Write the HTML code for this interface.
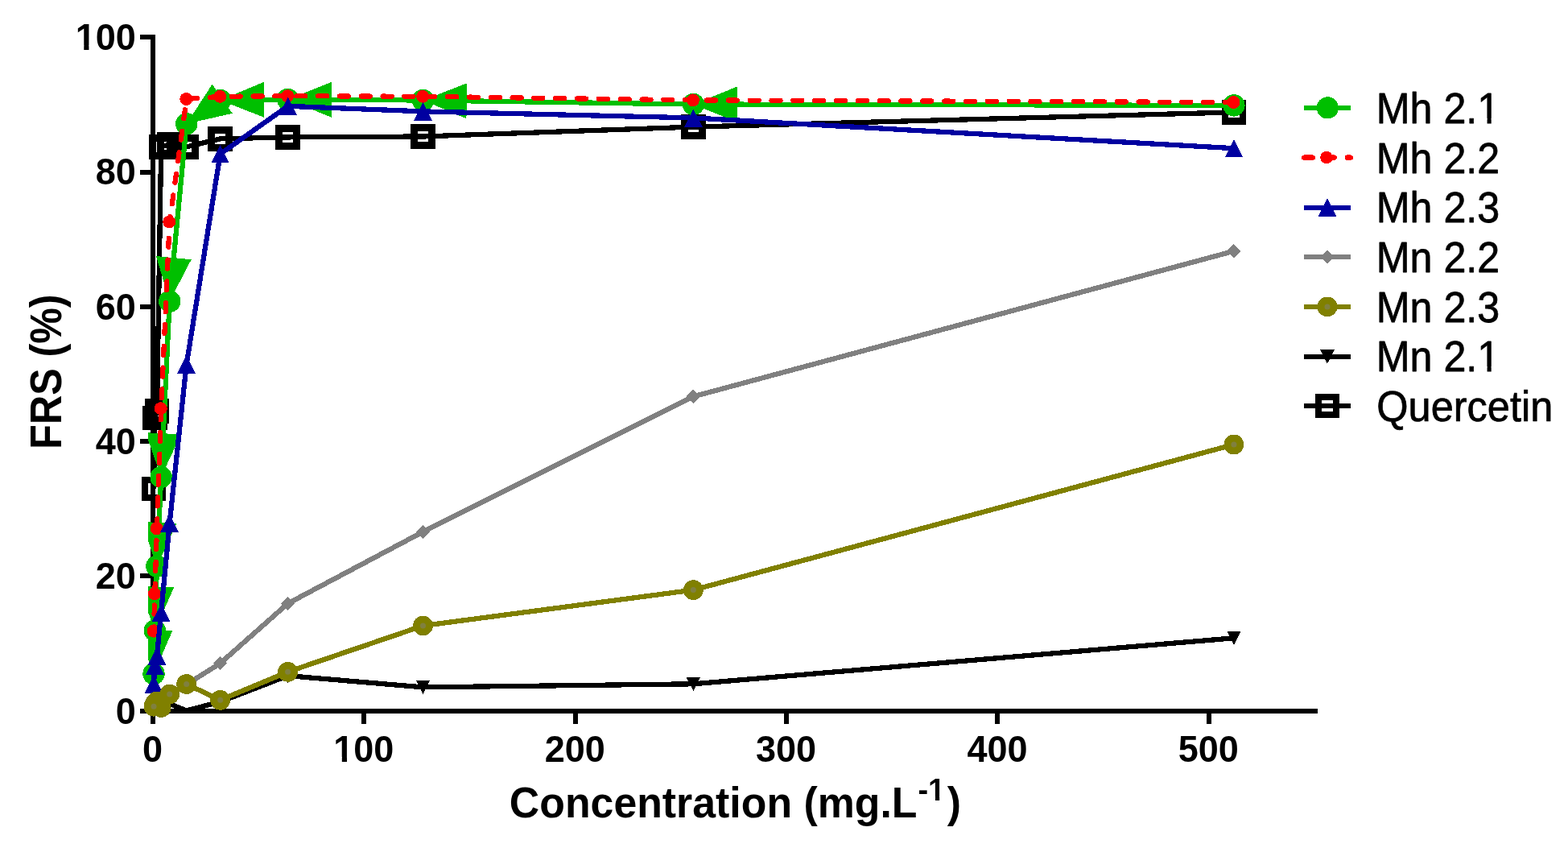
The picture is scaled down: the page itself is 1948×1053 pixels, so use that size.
<!DOCTYPE html>
<html lang="en"><head><meta charset="utf-8"><title>FRS (%) vs Concentration</title>
<style>html,body{margin:0;padding:0;background:#fff;width:1948px;height:1053px;overflow:hidden}svg{display:block}text{font-family:"Liberation Sans",sans-serif;fill:#000}.b{font-weight:700}.r{stroke:#000;stroke-width:0.7px;stroke-linejoin:round}</style></head><body>
<svg width="1948" height="1053" viewBox="0 0 1948 1053">
<rect width="1948" height="1053" fill="#fff"/>
<defs><clipPath id="cp"><rect x="184" y="0" width="1500" height="886"/></clipPath></defs>
<g shape-rendering="crispEdges" fill="#000">
<rect x="187" y="43" width="6" height="843"/>
<rect x="187" y="880" width="1450" height="6"/>
<rect x="174" y="880" width="14" height="6"/>
<rect x="174" y="712" width="14" height="6"/>
<rect x="174" y="545" width="14" height="6"/>
<rect x="174" y="378" width="14" height="6"/>
<rect x="174" y="211" width="14" height="6"/>
<rect x="174" y="43" width="14" height="6"/>
<rect x="187" y="885" width="6" height="14"/>
<rect x="449" y="885" width="6" height="14"/>
<rect x="712" y="885" width="6" height="14"/>
<rect x="974" y="885" width="6" height="14"/>
<rect x="1236" y="885" width="6" height="14"/>
<rect x="1499" y="885" width="6" height="14"/>
</g>
<g transform="translate(143.82 898.7) scale(1 1.0401)"><text class="b" font-size="45">0</text></g>
<g transform="translate(118.79 731.38) scale(1 1.0401)"><text class="b" font-size="45">20</text></g>
<g transform="translate(118.79 564.06) scale(1 1.0401)"><text class="b" font-size="45">40</text></g>
<g transform="translate(118.79 396.74) scale(1 1.0401)"><text class="b" font-size="45">60</text></g>
<g transform="translate(118.79 229.42) scale(1 1.0401)"><text class="b" font-size="45">80</text></g>
<g transform="translate(93.77 62.1) scale(1 1.0401)"><text class="b" font-size="45">100</text><rect x="1.83" y="-5.49" width="8.67" height="6.59" fill="#fff"/><rect x="16.68" y="-5.49" width="8.1" height="6.59" fill="#fff"/></g>
<g transform="translate(176.99 945.6) scale(1 1.0401)"><text class="b" font-size="45">0</text></g>
<g transform="translate(414.32 945.6) scale(1 1.0401)"><text class="b" font-size="45">100</text><rect x="1.83" y="-5.49" width="8.67" height="6.59" fill="#fff"/><rect x="16.68" y="-5.49" width="8.1" height="6.59" fill="#fff"/></g>
<g transform="translate(676.68 945.6) scale(1 1.0401)"><text class="b" font-size="45">200</text></g>
<g transform="translate(939.04 945.6) scale(1 1.0401)"><text class="b" font-size="45">300</text></g>
<g transform="translate(1201.4 945.6) scale(1 1.0401)"><text class="b" font-size="45">400</text></g>
<g transform="translate(1463.76 945.6) scale(1 1.0401)"><text class="b" font-size="45">500</text></g>
<g transform="translate(632.87 1015) scale(1 1.0348)"><text class="b" font-size="51.83">Concentration (mg.L</text></g>
<g transform="translate(1140.42 994) scale(1 1.0347)"><text class="b" font-size="38">-1</text><rect x="14.05" y="-4.78" width="7.48" height="5.88" fill="#fff"/><rect x="26.74" y="-4.78" width="6.99" height="5.88" fill="#fff"/></g>
<g transform="translate(1176.85 1015) scale(1 1.0348)"><text class="b" font-size="51.83">)</text></g>
<text class="b" font-size="50.13" transform="translate(76.2 557.65) rotate(-90) scale(1 1.0989)">FRS (%)</text>
<g shape-rendering="crispEdges">
<g clip-path="url(#cp)"><polyline points="191.01,607 192.32,519 194.95,510.6 200.19,182.4 210.69,179.4 231.68,182.4 273.65,172.3 357.6,170.4 525.51,169.5 861.32,157.6 1532.93,139.4" fill="none" stroke="#000" stroke-width="6.25" stroke-linejoin="round" /></g>
<rect x="1521.91" y="128.38" width="22.05" height="22.05" fill="none" stroke="#000" stroke-width="8.75"/>
<rect x="850.29" y="146.57" width="22.05" height="22.05" fill="none" stroke="#000" stroke-width="8.75"/>
<rect x="514.48" y="158.47" width="22.05" height="22.05" fill="none" stroke="#000" stroke-width="8.75"/>
<rect x="346.58" y="159.38" width="22.05" height="22.05" fill="none" stroke="#000" stroke-width="8.75"/>
<rect x="262.63" y="161.28" width="22.05" height="22.05" fill="none" stroke="#000" stroke-width="8.75"/>
<rect x="220.65" y="171.38" width="22.05" height="22.05" fill="none" stroke="#000" stroke-width="8.75"/>
<rect x="199.66" y="168.38" width="22.05" height="22.05" fill="none" stroke="#000" stroke-width="8.75"/>
<rect x="189.17" y="171.38" width="22.05" height="22.05" fill="none" stroke="#000" stroke-width="8.75"/>
<rect x="183.92" y="499.58" width="22.05" height="22.05" fill="none" stroke="#000" stroke-width="8.75"/>
<rect x="181.3" y="507.98" width="22.05" height="22.05" fill="none" stroke="#000" stroke-width="8.75"/>
<rect x="179.99" y="595.98" width="22.05" height="22.05" fill="none" stroke="#000" stroke-width="8.75"/>
<g clip-path="url(#cp)"><polyline points="191.01,879 192.32,878 194.95,877 200.19,876 210.69,874 231.68,882.4 273.65,871.5 357.6,839.1 525.51,853.4 861.32,849.3 1532.93,792.3" fill="none" stroke="#000" stroke-width="6.25" stroke-linejoin="round" /></g>
<polygon points="191.01,887.6 199.81,870.4 182.21,870.4" fill="#000"/>
<polygon points="192.32,886.6 201.12,869.4 183.52,869.4" fill="#000"/>
<polygon points="194.95,885.6 203.75,868.4 186.15,868.4" fill="#000"/>
<polygon points="200.19,884.6 208.99,867.4 191.39,867.4" fill="#000"/>
<polygon points="210.69,882.6 219.49,865.4 201.89,865.4" fill="#000"/>
<polygon points="273.65,880.1 282.45,862.9 264.85,862.9" fill="#000"/>
<polygon points="357.6,847.7 366.4,830.5 348.8,830.5" fill="#000"/>
<polygon points="525.51,862 534.31,844.8 516.71,844.8" fill="#000"/>
<polygon points="861.32,857.9 870.12,840.7 852.52,840.7" fill="#000"/>
<polygon points="1532.93,800.9 1541.73,783.7 1524.13,783.7" fill="#000"/>
<g clip-path="url(#cp)"><polyline points="191.01,836.8 192.32,783 194.95,703.2 200.19,592.5 210.69,374.2 231.68,153.8 273.65,124.5 357.6,123.5 525.51,124.5 861.32,129.5 1532.93,130.9" fill="none" stroke="#00BF00" stroke-width="6.25" stroke-linejoin="round" />
<polygon points="191.01,836.8 214.33,783.05 170.34,781.98" fill="#00BF00"/>
<polygon points="192.32,783 216.1,729.45 172.12,728.01" fill="#00BF00"/>
<polygon points="194.95,703.2 219.49,650 175.54,647.92" fill="#00BF00"/>
<polygon points="200.19,592.5 224.78,539.32 180.83,537.21" fill="#00BF00"/>
<polygon points="210.69,374.2 237.74,322.23 193.93,318.06" fill="#00BF00"/>
<polygon points="231.68,153.8 288.79,140.76 263.61,104.68" fill="#00BF00"/>
<polygon points="273.65,124.5 328.21,145.85 327.69,101.85" fill="#00BF00"/>
<polygon points="357.6,123.5 411.77,145.82 412.03,101.82" fill="#00BF00"/>
<polygon points="525.51,124.5 579.47,147.31 580.13,103.31" fill="#00BF00"/>
<polygon points="861.32,129.5 915.57,151.61 915.66,107.61" fill="#00BF00"/>
</g>
<circle cx="191.01" cy="836.8" r="13.7" fill="#00BF00"/>
<circle cx="192.32" cy="783" r="13.7" fill="#00BF00"/>
<circle cx="194.95" cy="703.2" r="13.7" fill="#00BF00"/>
<circle cx="200.19" cy="592.5" r="13.7" fill="#00BF00"/>
<circle cx="210.69" cy="374.2" r="13.7" fill="#00BF00"/>
<circle cx="231.68" cy="153.8" r="13.7" fill="#00BF00"/>
<circle cx="273.65" cy="124.5" r="13.7" fill="#00BF00"/>
<circle cx="357.6" cy="123.5" r="13.7" fill="#00BF00"/>
<circle cx="525.51" cy="124.5" r="13.7" fill="#00BF00"/>
<circle cx="861.32" cy="129.5" r="13.7" fill="#00BF00"/>
<circle cx="1532.93" cy="130.9" r="13.7" fill="#00BF00"/>
<g clip-path="url(#cp)"><polyline points="1532.93,127 861.32,124.4 525.51,119.8 357.6,119.2 273.65,119.8 231.68,123 210.69,275.5 200.19,507.2 194.95,656.2 192.32,737.3 191.01,783.7" fill="none" stroke="#FF0000" stroke-width="6.25" stroke-linejoin="round" stroke-dasharray="11 15.83" stroke-linecap="round" stroke-dashoffset="0"/></g>
<circle cx="190.61" cy="783.7" r="8" fill="#FF0000"/>
<circle cx="191.92" cy="737.3" r="8" fill="#FF0000"/>
<circle cx="194.55" cy="656.2" r="8" fill="#FF0000"/>
<circle cx="199.79" cy="507.2" r="8" fill="#FF0000"/>
<circle cx="210.29" cy="275.5" r="8" fill="#FF0000"/>
<circle cx="231.28" cy="123" r="8" fill="#FF0000"/>
<circle cx="273.25" cy="119.8" r="8" fill="#FF0000"/>
<circle cx="357.2" cy="119.2" r="8" fill="#FF0000"/>
<circle cx="525.11" cy="119.8" r="8" fill="#FF0000"/>
<circle cx="860.92" cy="124.4" r="8" fill="#FF0000"/>
<circle cx="1532.53" cy="127" r="8" fill="#FF0000"/>
<g clip-path="url(#cp)"><polyline points="191.01,849.3 192.32,826.3 194.95,814.6 200.19,760.5 210.69,649.4 231.68,452.4 273.65,191.2 357.6,131.8 525.51,138.4 861.32,146.4 1532.93,184.2" fill="none" stroke="#0000A0" stroke-width="6.25" stroke-linejoin="round" /></g>
<polygon points="191.01,838.1 202.31,860.5 179.71,860.5" fill="#0000A0"/>
<polygon points="192.32,815.1 203.62,837.5 181.02,837.5" fill="#0000A0"/>
<polygon points="194.95,803.4 206.25,825.8 183.65,825.8" fill="#0000A0"/>
<polygon points="200.19,749.3 211.49,771.7 188.89,771.7" fill="#0000A0"/>
<polygon points="210.69,638.2 221.99,660.6 199.39,660.6" fill="#0000A0"/>
<polygon points="231.68,441.2 242.98,463.6 220.38,463.6" fill="#0000A0"/>
<polygon points="273.65,180 284.95,202.4 262.35,202.4" fill="#0000A0"/>
<polygon points="357.6,120.6 368.9,143 346.3,143" fill="#0000A0"/>
<polygon points="525.51,127.2 536.81,149.6 514.21,149.6" fill="#0000A0"/>
<polygon points="861.32,135.2 872.62,157.6 850.02,157.6" fill="#0000A0"/>
<polygon points="1532.93,173 1544.23,195.4 1521.63,195.4" fill="#0000A0"/>
<g clip-path="url(#cp)"><polyline points="191.01,880 192.32,879 194.95,877 200.19,872 210.69,864 231.68,850 273.65,823.6 357.6,749.4 525.51,660.4 861.32,492.4 1532.93,311.8" fill="none" stroke="#808080" stroke-width="6.25" stroke-linejoin="round" /></g>
<polygon points="191.01,871.25 199.76,880 191.01,888.75 182.26,880" fill="#808080"/>
<polygon points="192.32,870.25 201.07,879 192.32,887.75 183.57,879" fill="#808080"/>
<polygon points="194.95,868.25 203.7,877 194.95,885.75 186.2,877" fill="#808080"/>
<polygon points="200.19,863.25 208.94,872 200.19,880.75 191.44,872" fill="#808080"/>
<polygon points="210.69,855.25 219.44,864 210.69,872.75 201.94,864" fill="#808080"/>
<polygon points="231.68,841.25 240.43,850 231.68,858.75 222.93,850" fill="#808080"/>
<polygon points="273.65,814.85 282.4,823.6 273.65,832.35 264.9,823.6" fill="#808080"/>
<polygon points="357.6,740.65 366.35,749.4 357.6,758.15 348.85,749.4" fill="#808080"/>
<polygon points="525.51,651.65 534.26,660.4 525.51,669.15 516.76,660.4" fill="#808080"/>
<polygon points="861.32,483.65 870.07,492.4 861.32,501.15 852.57,492.4" fill="#808080"/>
<polygon points="1532.93,303.05 1541.68,311.8 1532.93,320.55 1524.18,311.8" fill="#808080"/>
<g clip-path="url(#cp)"><polyline points="191.01,877.2 192.32,874 194.95,870.9 200.19,878.5 210.69,862 231.68,849.5 273.65,869.3 357.6,834.3 525.51,777 861.32,732.6 1532.93,552" fill="none" stroke="#808000" stroke-width="6.25" stroke-linejoin="round" /></g>
<circle cx="1532.93" cy="552" r="12.4" fill="#808000"/>
<circle shape-rendering="geometricPrecision" cx="1532.93" cy="552" r="3.5" fill="#808040"/>
<circle cx="861.32" cy="732.6" r="12.4" fill="#808000"/>
<circle shape-rendering="geometricPrecision" cx="861.32" cy="732.6" r="3.5" fill="#808040"/>
<circle cx="525.51" cy="777" r="12.4" fill="#808000"/>
<circle shape-rendering="geometricPrecision" cx="525.51" cy="777" r="3.5" fill="#808040"/>
<circle cx="357.6" cy="834.3" r="12.4" fill="#808000"/>
<circle shape-rendering="geometricPrecision" cx="357.6" cy="834.3" r="3.5" fill="#808040"/>
<circle cx="273.65" cy="869.3" r="12.4" fill="#808000"/>
<circle shape-rendering="geometricPrecision" cx="273.65" cy="869.3" r="3.5" fill="#808040"/>
<circle cx="231.68" cy="849.5" r="12.4" fill="#808000"/>
<circle shape-rendering="geometricPrecision" cx="231.68" cy="849.5" r="3.5" fill="#808040"/>
<circle cx="210.69" cy="862" r="12.4" fill="#808000"/>
<circle shape-rendering="geometricPrecision" cx="210.69" cy="862" r="3.5" fill="#808040"/>
<circle cx="200.19" cy="878.5" r="12.4" fill="#808000"/>
<circle cx="194.95" cy="870.9" r="12.4" fill="#808000"/>
<circle cx="192.32" cy="874" r="12.4" fill="#808000"/>
<circle cx="191.01" cy="877.2" r="12.4" fill="#808000"/>
<circle shape-rendering="geometricPrecision" cx="191.01" cy="877.2" r="3.5" fill="#808040"/>
</g>
<g shape-rendering="crispEdges">
<line x1="1620" y1="133.85" x2="1678" y2="133.85" stroke="#00BF00" stroke-width="6.25"/>
<circle cx="1649.3" cy="133.85" r="13.6" fill="#00BF00"/>
<line x1="1620" y1="195.6" x2="1678" y2="195.6" stroke="#FF0000" stroke-width="6.25" stroke-dasharray="11 15.83" stroke-linecap="round"/>
<circle cx="1648" cy="195.6" r="7.8" fill="#FF0000"/>
<line x1="1620" y1="258" x2="1678" y2="258" stroke="#0000A0" stroke-width="6.25"/>
<polygon points="1649,246.3 1660.3,268.7 1637.7,268.7" fill="#0000A0"/>
<line x1="1620" y1="319" x2="1678" y2="319" stroke="#808080" stroke-width="6.25"/>
<polygon points="1649,310.25 1657.75,319 1649,327.75 1640.25,319" fill="#808080"/>
<line x1="1620" y1="380.9" x2="1678" y2="380.9" stroke="#808000" stroke-width="6.25"/>
<circle cx="1649" cy="380.9" r="12.4" fill="#808000"/>
<circle shape-rendering="geometricPrecision" cx="1649" cy="380.9" r="3.5" fill="#808040"/>
<line x1="1620" y1="443" x2="1678" y2="443" stroke="#000" stroke-width="6.25"/>
<polygon points="1649,451.5 1657.8,434.1 1640.2,434.1" fill="#000"/>
<line x1="1620" y1="504" x2="1678" y2="504" stroke="#000" stroke-width="6.25"/>
<rect x="1637.97" y="492.98" width="22.05" height="22.05" fill="none" stroke="#000" stroke-width="8.75"/>
</g>
<g transform="translate(1709.74 153.05) scale(1 1.0756)"><text class="r" font-size="50.2">Mh 2.1</text><rect x="127.77" y="-5.75" width="10.05" height="7.15" fill="#fff"/><rect x="142.96" y="-5.75" width="9.66" height="7.15" fill="#fff"/></g>
<g transform="translate(1709.74 214.69) scale(1 1.0756)"><text class="r" font-size="50.2">Mh 2.2</text></g>
<g transform="translate(1709.74 276.33) scale(1 1.0756)"><text class="r" font-size="50.2">Mh 2.3</text></g>
<g transform="translate(1709.74 337.97) scale(1 1.0756)"><text class="r" font-size="50.2">Mn 2.2</text></g>
<g transform="translate(1709.74 399.61) scale(1 1.0756)"><text class="r" font-size="50.2">Mn 2.3</text></g>
<g transform="translate(1709.74 461.25) scale(1 1.0756)"><text class="r" font-size="50.2">Mn 2.1</text><rect x="127.77" y="-5.75" width="10.05" height="7.15" fill="#fff"/><rect x="142.96" y="-5.75" width="9.66" height="7.15" fill="#fff"/></g>
<g transform="translate(1710.31 522.89) scale(1 1.0691)"><text class="r" font-size="50.51">Quercetin</text></g>
</svg></body></html>
